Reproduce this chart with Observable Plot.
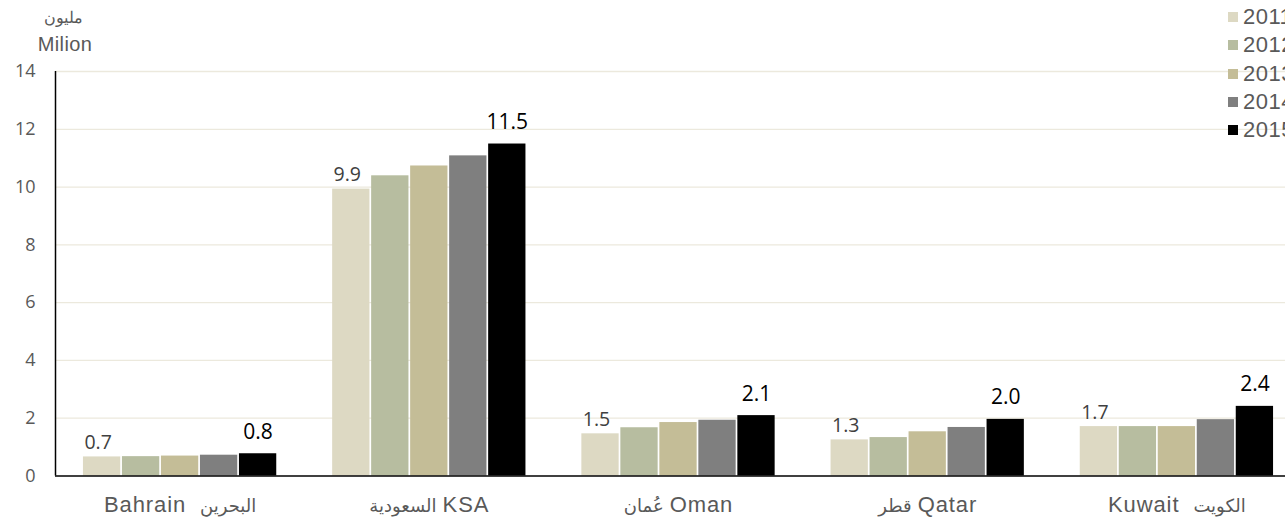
<!DOCTYPE html>
<html><head><meta charset="utf-8">
<script src="https://cdn.jsdelivr.net/npm/d3@7"></script>
<script src="https://cdn.jsdelivr.net/npm/@observablehq/plot@0.6"></script>
<style>
html,body{margin:0;padding:0;overflow:hidden;background:#fff;width:1285px;height:523px}
#wrap{position:relative;width:1285px;height:523px;overflow:hidden}
#wrap svg{position:absolute;left:0;top:0;max-width:none !important}
.ytitle{position:absolute;font-family:"Liberation Sans",Arial,sans-serif;color:#595959;text-align:center;width:90px;line-height:1;white-space:nowrap}
#legend{position:absolute;left:1228px;top:3px;font-family:"Liberation Sans",Arial,sans-serif;color:#595959;font-size:22px;letter-spacing:0.5px}
#legend .row{height:28.3px;display:flex;align-items:center;white-space:nowrap}
#legend .sw{width:10px;height:10px;margin-right:5px;flex:none}
</style></head><body><div id="wrap"></div>
<script>
const countries = ["Bahrain", "KSA", "Oman", "Qatar", "Kuwait"];
const countryLabels = ["Bahrain\u00a0\u00a0البحرين", "السعودية KSA", "عُمان Oman", "قطر Qatar", "Kuwait\u00a0\u00a0الكويت"];
const years = [2011, 2012, 2013, 2014, 2015];
const yearColors = ["#DDD9C3", "#B7BDA0", "#C4BD97", "#7F7F7F", "#000000"];
const bahrain = [0.66, 0.67, 0.69, 0.72, 0.77];
const ksa = [9.93, 10.39, 10.73, 11.08, 11.49];
const oman = [1.46, 1.67, 1.85, 1.93, 2.09];
const qatar = [1.25, 1.33, 1.53, 1.68, 1.96];
const kuwait = [1.71, 1.71, 1.71, 1.95, 2.41];
const yTicks = [0, 2, 4, 6, 8, 10, 12, 14];
const yTitleAr = "مليون";
const yTitleEn = "Milion";

const series = [bahrain, ksa, oman, qatar, kuwait];
const rows = [];
countries.forEach((c, ci) => years.forEach((y, yi) => rows.push({country: c, ci, year: y, yi, value: series[ci][yi], color: yearColors[yi]})));

const step = 0.1565; // bar step within a group (group step = 1)
const center = d => d.ci + 0.5 + (d.yi - 2) * step;

const chart = Plot.plot({
  width: 1301, height: 523,
  marginLeft: 55, marginRight: 0, marginTop: 71, marginBottom: 47.5,
  style: {fontFamily: "Liberation Sans, Arial, sans-serif", background: "transparent", color: "#595959", overflow: "visible", maxWidth: "none"},
  x: {domain: [0, 5], axis: null},
  y: {domain: [0, 14], axis: null},
  marks: [
    Plot.ruleY(yTicks.filter(d => d > 0), {stroke: "#ECE9DD", strokeWidth: 1.3}),
    Plot.rectY(rows, {x1: d => center(d) - step / 2, x2: d => center(d) + step / 2, y1: 0, y2: "value", fill: "color", insetLeft: 0.85, insetRight: 0.85}),
    Plot.ruleY([0], {stroke: "#000", strokeWidth: 1.5}),
    Plot.ruleX([0], {stroke: "#000", strokeWidth: 1.5}),
    Plot.axisY({ticks: yTicks, tickSize: 0, tickPadding: 20, fontSize: 18, fontFamily: "Open Sans", label: null, tickFormat: d => String(d)}),
    Plot.axisX({ticks: countries.map((d, i) => i + 0.5), tickFormat: d => countryLabels[Math.round(d - 0.5)], tickSize: 0, tickPadding: 21, fontSize: 21, label: null}),
    Plot.text(rows.filter(d => d.yi === 0), {x: center, y: "value", text: d => d.value.toFixed(1), dx: -4, dy: -8, lineAnchor: "bottom", fontSize: 19.5, fontFamily: "Open Sans", fill: "#404040"}),
    Plot.text(rows.filter(d => d.yi === 4), {x: center, y: "value", text: d => d.value.toFixed(1), dy: -15, lineAnchor: "bottom", fontSize: 21, fontFamily: "Open Sans", fill: "#000"})
  ]
});
const wrap = document.getElementById("wrap");
wrap.appendChild(chart);

// style the Latin and Arabic parts of the country labels separately
const NS = "http://www.w3.org/2000/svg";
chart.querySelectorAll('g[aria-label="x-axis tick label"] text').forEach(t => {
  const s = t.textContent;
  const parts = s.split(/([\u0600-\u06FF]+)/).filter(p => p.length);
  while (t.firstChild) t.removeChild(t.firstChild);
  parts.forEach(p => {
    const ts = document.createElementNS(NS, "tspan");
    ts.textContent = p;
    if (/[\u0600-\u06FF]/.test(p)) {
      ts.setAttribute("font-size", "18");
      ts.setAttribute("font-family", "DejaVu Sans, sans-serif");
    } else {
      ts.setAttribute("font-size", "22");
      ts.setAttribute("letter-spacing", "0.9");
    }
    t.appendChild(ts);
  });
});

const t1 = document.createElement("div"); t1.className = "ytitle"; t1.textContent = yTitleAr; t1.style.fontSize = "16px"; t1.style.left = "18px"; t1.style.top = "10px"; wrap.appendChild(t1);
const t2 = document.createElement("div"); t2.className = "ytitle"; t2.textContent = yTitleEn; t2.style.fontSize = "20px"; t2.style.letterSpacing = "0.4px"; t2.style.left = "20px"; t2.style.top = "34px"; wrap.appendChild(t2);

const legend = document.createElement("div"); legend.id = "legend";
years.forEach((y, i) => {
  const r = document.createElement("div"); r.className = "row";
  const sw = document.createElement("span"); sw.className = "sw"; sw.style.background = yearColors[i];
  const tx = document.createElement("span"); tx.textContent = String(y);
  r.appendChild(sw); r.appendChild(tx); legend.appendChild(r);
});
wrap.appendChild(legend);
</script>
</body></html>
